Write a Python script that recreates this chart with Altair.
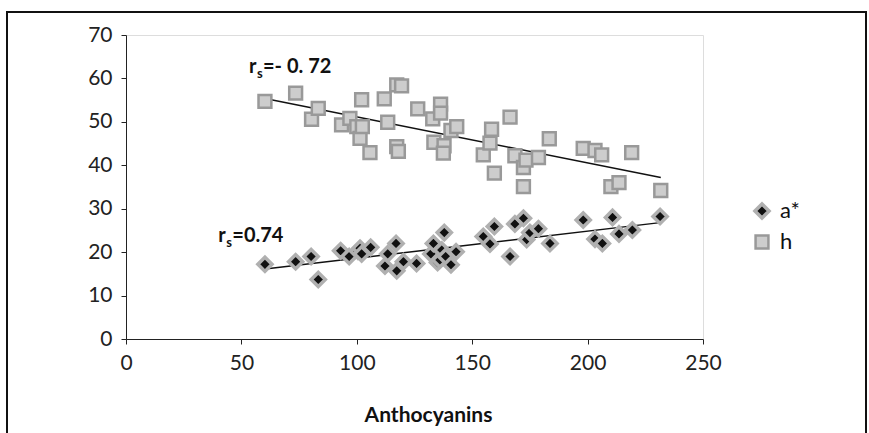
import altair as alt
import pandas as pd

# Anthocyanin content against the two colour coordinates
h_x = [60.2, 73.5, 80.4, 83.3, 93.4, 97.0, 100.0, 101.4, 102.1, 102.4, 105.7,
       111.9, 113.4, 117.3, 118.0, 117.3, 119.4, 126.4, 132.9, 133.4, 136.3,
       136.3, 137.8, 137.5, 140.8, 143.3, 154.8, 157.7, 158.4, 159.6, 166.4,
       168.5, 172.2, 173.3, 172.2, 178.7, 183.4, 198.1, 203.2, 206.1, 210.1,
       213.6, 219.1, 231.7]
h_y = [54.7, 56.6, 50.6, 53.1, 49.3, 50.8, 48.9, 46.2, 55.1, 48.9, 42.9,
       55.3, 49.9, 44.3, 43.2, 58.5, 58.3, 53.0, 50.7, 45.3, 54.1,
       52.0, 44.5, 42.8, 48.0, 48.9, 42.4, 45.1, 48.3, 38.2, 51.1,
       42.2, 39.5, 41.2, 35.1, 41.8, 46.1, 43.9, 43.4, 42.4, 35.1,
       36.0, 42.9, 34.2]

a_x = [60.2, 73.5, 80.2, 83.3, 93.0, 96.7, 100.5, 101.4, 102.1, 106.0, 112.2,
       113.4, 117.0, 117.3, 120.2, 125.9, 132.1, 133.2, 135.0, 136.0, 136.8,
       137.9, 138.5, 140.8, 143.0, 154.8, 157.7, 159.6, 166.4, 168.5, 172.2,
       173.6, 175.0, 178.7, 183.7, 198.1, 203.2, 206.4, 210.8, 213.6, 219.4,
       231.4]
a_y = [17.2, 17.8, 19.0, 13.7, 20.3, 19.0, 20.2, 20.9, 19.6, 21.1, 16.8,
       19.6, 22.0, 15.7, 17.8, 17.4, 19.6, 22.0, 17.6, 18.2, 20.5,
       24.5, 19.0, 17.1, 20.1, 23.6, 21.9, 25.9, 19.0, 26.5, 27.8,
       22.9, 24.5, 25.4, 22.0, 27.4, 23.0, 22.0, 28.0, 24.2, 25.1,
       28.2]

series_names = ["a*", "h"]
rs_labels = ["=- 0. 72", "=0.74"]
rs_x = [53.3, 40.0]
rs_y = [61.2, 22.3]

FONT = "Lato"

points = pd.concat([
    pd.DataFrame({"Anthocyanins": a_x, "value": a_y, "series": series_names[0]}),
    pd.DataFrame({"Anthocyanins": h_x, "value": h_y, "series": series_names[1]}),
])
labels = pd.DataFrame({"x": rs_x, "y": rs_y, "rest": rs_labels})

x_enc = alt.X("Anthocyanins:Q", scale=alt.Scale(domain=[0, 250], nice=False),
              axis=alt.Axis(values=[0, 50, 100, 150, 200, 250], grid=False,
                            title="Anthocyanins", titleFontWeight="bold",
                            titleFontSize=21, titleFont=FONT, titlePadding=31,
                            titleX=302, titleColor="#111",
                            labelFontSize=21, labelFont=FONT, labelColor="#222",
                            labelPadding=8, tickSize=5, tickColor="#222",
                            domainColor="#222", labelFlush=False))
y_enc = alt.Y("value:Q", scale=alt.Scale(domain=[0, 70], nice=False),
              axis=alt.Axis(values=list(range(0, 71, 10)), grid=False, title=None,
                            labelFontSize=21, labelFont=FONT, labelColor="#222",
                            labelPadding=9, tickSize=5, tickColor="#222",
                            domainColor="#222"))

# one shared legend for every channel keyed on the series
series_legend = alt.Legend(title=None, orient="none", legendX=625, legendY=165,
                           labelFontSize=22, labelFont=FONT, labelColor="#111",
                           rowPadding=4, labelOffset=7, padding=0)

base = alt.Chart(points)

scatter = base.mark_point(filled=True, opacity=1).encode(
    x=x_enc,
    y=y_enc,
    shape=alt.Shape("series:N", scale=alt.Scale(domain=series_names,
                                                range=["diamond", "square"]),
                    legend=series_legend),
    fill=alt.Fill("series:N", scale=alt.Scale(domain=series_names,
                                              range=["#111111", "#cdcdcd"]),
                  legend=series_legend),
    stroke=alt.Stroke("series:N", scale=alt.Scale(domain=series_names,
                                                  range=["#b0b0b0", "#999999"]),
                      legend=series_legend),
    size=alt.Size("series:N", scale=alt.Scale(domain=series_names,
                                              range=[200, 165]),
                  legend=series_legend),
    strokeWidth=alt.StrokeWidth("series:N", scale=alt.Scale(domain=series_names,
                                                            range=[3.5, 2.5]),
                                legend=series_legend),
)

trend = base.transform_regression(
    "Anthocyanins", "value", groupby=["series"]
).mark_line(color="#111", strokeWidth=1.5).encode(
    x="Anthocyanins:Q", y="value:Q", detail="series:N"
)

text_r = alt.Chart(labels).mark_text(
    text="r", align="left", baseline="alphabetic", fontSize=20,
    fontWeight="bold", font=FONT, color="#111"
).encode(x="x:Q", y="y:Q")
text_s = alt.Chart(labels).mark_text(
    text="s", align="left", baseline="alphabetic", fontSize=13, dx=8, dy=5,
    fontWeight="bold", font=FONT, color="#111"
).encode(x="x:Q", y="y:Q")
text_rest = alt.Chart(labels).mark_text(
    align="left", baseline="alphabetic", fontSize=20, dx=14,
    fontWeight="bold", font=FONT, color="#111"
).encode(x="x:Q", y="y:Q", text="rest:N")

# outer chart frame
frame = alt.Chart(labels).mark_rect(
    fillOpacity=0, stroke="#111", strokeWidth=2, clip=False
).encode(x=alt.value(-119), x2=alt.value(740), y=alt.value(-23), y2=alt.value(420))

chart = alt.layer(frame, trend, scatter, text_r, text_s, text_rest).properties(
    width=577, height=304,
    autosize=alt.AutoSizeParams(type="none"),
    padding={"left": 126, "top": 35, "right": 166, "bottom": 94},
).configure_view(stroke=None).configure(background="white")

chart.save("out.html", embed_options={"renderer": "svg", "actions": False})
